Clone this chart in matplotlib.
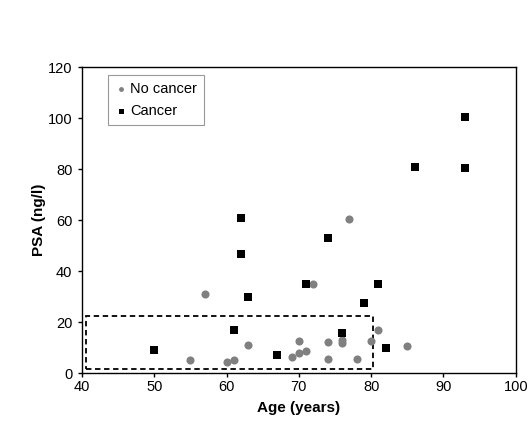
import matplotlib.pyplot as plt
from matplotlib.patches import Rectangle

plt.rcParams['font.family'] = ['Liberation Sans', 'DejaVu Sans']

# No cancer (grey circles)
age_no = [55, 57, 60, 61, 63, 69, 70, 70, 71, 72, 74, 74, 76, 76, 77, 78, 80, 81, 85]
psa_no = [5, 31, 4.5, 5, 11, 6.3, 12.7, 7.9, 8.7, 35, 12, 5.6, 13, 11.7, 60.5, 5.6, 12.7, 17, 10.5]

# Cancer (black squares)
age_ca = [50, 61, 62, 62, 63, 67, 71, 74, 76, 79, 81, 82, 86, 93, 93]
psa_ca = [9, 17, 61, 46.5, 30, 7, 35, 53, 15.7, 27.5, 35, 10, 81, 100.5, 80.5]

# dashed box region
box_x = [40.5, 80.2]
box_y = [1.7, 22.5]

fig = plt.figure(figsize=(5.29, 4.22), dpi=100)
ax = fig.add_axes([0.155, 0.116, 0.82, 0.725])

ax.scatter(age_no, psa_no, marker='o', s=34, color='#808080', linewidths=0, label='No cancer', zorder=3)
ax.scatter(age_ca, psa_ca, marker='s', s=36, color='black', linewidths=0, label='Cancer', zorder=3)

ax.add_patch(Rectangle((box_x[0], box_y[0]), box_x[1] - box_x[0], box_y[1] - box_y[0],
                       fill=False, linestyle=(0, (3, 2)), linewidth=1.3, edgecolor='black'))

ax.set_xlim(40, 100)
ax.set_ylim(0, 120)
ax.set_xticks(range(40, 101, 10))
ax.set_yticks(range(0, 121, 20))
ax.tick_params(labelsize=10.5, direction='out', length=3, width=1)
ax.tick_params(axis='x', pad=2)
ax.tick_params(axis='y', pad=4)
for s in ax.spines.values():
    s.set_linewidth(1)

ax.set_xlabel('Age (years)', fontsize=11, fontweight='bold', labelpad=5)
ax.set_ylabel('PSA (ng/l)', fontsize=11, fontweight='bold', labelpad=1)

leg = ax.legend(loc='upper left', bbox_to_anchor=(0.044, 0.998), fontsize=10.5, frameon=True,
                fancybox=False, edgecolor='#808080', markerscale=0.6, handletextpad=0.2,
                handlelength=0.8, borderpad=0.5, labelspacing=0.5)
leg.get_frame().set_linewidth(0.8)

fig.savefig('out.png', dpi=100)
